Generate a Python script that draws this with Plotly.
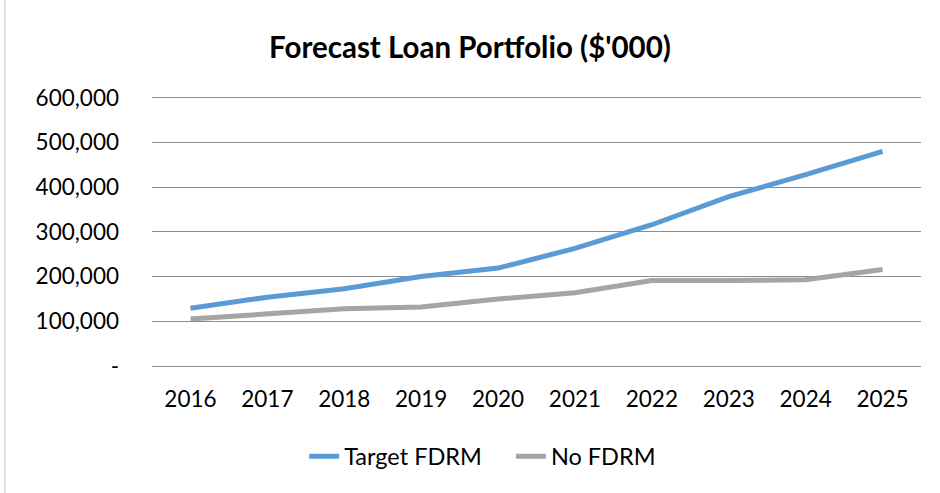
import plotly.graph_objects as go

years = ["2016", "2017", "2018", "2019", "2020", "2021", "2022", "2023", "2024", "2025"]
target_fdrm = [129000, 154000, 173000, 200000, 219000, 263000, 316000, 379000, 428000, 480000]
no_fdrm = [105000, 117000, 128000, 132000, 150000, 164000, 191000, 191000, 193000, 216000]

tick_vals = [0, 100000, 200000, 300000, 400000, 500000, 600000]
tick_text = ["-", "100,000", "200,000", "300,000", "400,000", "500,000", "600,000"]

font_name = "Lato, Open Sans, sans-serif"
gap = "\u00a0" * 4  # a bit more room between the legend entries

fig = go.Figure()

fig.add_trace(
    go.Scatter(x=years, y=target_fdrm, mode="lines", name="Target FDRM" + gap,
               line=dict(color="#5B9BD5", width=5))
)
fig.add_trace(
    go.Scatter(x=years, y=no_fdrm, mode="lines", name="No FDRM",
               line=dict(color="#A5A5A5", width=5))
)

fig.update_layout(
    width=940, height=493,
    margin=dict(l=152, r=19, t=96, b=127),
    paper_bgcolor="white", plot_bgcolor="white",
    font=dict(family=font_name, color="black", size=22.5),
    title=dict(text="<b>Forecast Loan Portfolio ($'000)</b>", x=0.5, xanchor="center",
               y=0.903, yanchor="middle", font=dict(size=29.5)),
    showlegend=True,
    legend=dict(orientation="h", x=0.43, xanchor="center", y=-0.335, yanchor="middle",
                font=dict(size=23.5)),
    xaxis=dict(type="category", range=[-0.5, 9.5], showgrid=False, showline=False,
               ticks="", ticklabelstandoff=17),
    yaxis=dict(range=[0, 604000], tickvals=tick_vals, ticktext=tick_text,
               showgrid=True, gridcolor="#8c8c8c", gridwidth=1, zeroline=True,
               zerolinecolor="#8c8c8c", zerolinewidth=1, showline=False, ticks="",
               ticklabelstandoff=32),
    shapes=[dict(type="rect", xref="paper", yref="paper", x0=-0.1912, x1=1.03,
                 y0=-0.5, y1=1.36, line=dict(color="#bfbfbf", width=1))],
)

fig.write_html("out.html", config={"displayModeBar": False},
               post_script="document.body.style.margin='0px';")
